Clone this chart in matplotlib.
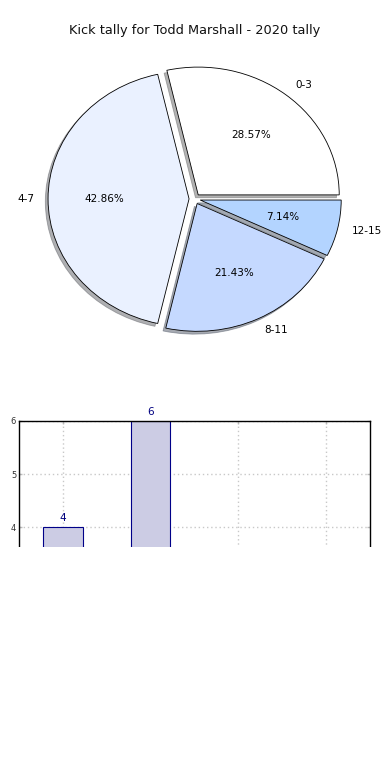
"""
kick tally figure: pie + bar
"""

import matplotlib

matplotlib.use("Agg")
import matplotlib.pyplot as plt
from matplotlib.patches import Rectangle

# --------------------------------
#       DATA
# --------------------------------
title = "Kick tally for Todd Marshall - 2020 tally"
categories = ["0-3", "4-7", "8-11", "12-15"]
kicks = [4, 6, 3, 1]
pie_colors = ["#ffffff", "#eaf1ff", "#c5d9ff", "#b3d4ff"]
explode = [0.04, 0.04, 0.04, 0.04]

fig = plt.figure(figsize=(3.9, 7.8), dpi=100)
fig.patch.set_facecolor("white")

fig.text(0.5, 1 - 30.5 / 780, title, ha="center", va="center", fontsize=9.3,
         color="#111111")

# --------------------------------
#       PIE
# --------------------------------
ax_pie = fig.add_axes([11.4 / 390, 0.532, 366.6 / 390, 332.3 / 780])
wedges, texts, autotexts = ax_pie.pie(
    kicks,
    labels=categories,
    colors=pie_colors,
    explode=explode,
    autopct="%.2f%%",
    shadow={"ox": -0.014, "oy": -0.016, "shade": 0.6},
    startangle=0,
    wedgeprops={"edgecolor": "black", "linewidth": 0.6},
    textprops={"fontsize": 7.5},
)
ax_pie.set_aspect("auto")
ax_pie.set_xlim(-1.3, 1.3)
ax_pie.set_ylim(-1.3, 1.3)
ax_pie.axis("off")

# --------------------------------
#       BARS
# --------------------------------
ax_bar = fig.add_axes([19 / 390, 1 - 740 / 780, 351 / 390, 319 / 780])
x = list(range(len(categories)))
bars = ax_bar.bar(x, kicks, width=0.45, color="#ccccE4", edgecolor="#000088",
                  linewidth=0.8, zorder=2)
for xi, k in zip(x, kicks):
    ax_bar.text(xi, k + 0.08, str(k), ha="center", va="bottom", fontsize=7.5,
                color="#000080")
ax_bar.set_xlim(-0.5, 3.5)
ax_bar.set_ylim(0, 6)
ax_bar.set_xticks(x)
ax_bar.set_xticklabels(categories)
ax_bar.set_yticks(range(0, 7))
ax_bar.tick_params(labelsize=6, length=2.5, width=1, direction="in", top=True,
                   right=True, color="#bbbbbb", labelcolor="#333333", pad=2)
ax_bar.grid(True, linestyle=(0, (1, 2)), color="#c8c8c8", linewidth=1)
ax_bar.set_axisbelow(True)
for s in ax_bar.spines.values():
    s.set_linewidth(1)

# lower part of the figure is blank
fig.patches.append(Rectangle((0, 0), 1, 1 - 546.5 / 780, transform=fig.transFigure,
                             facecolor="white", edgecolor="none", zorder=10))

fig.savefig("out.png", dpi=100)
